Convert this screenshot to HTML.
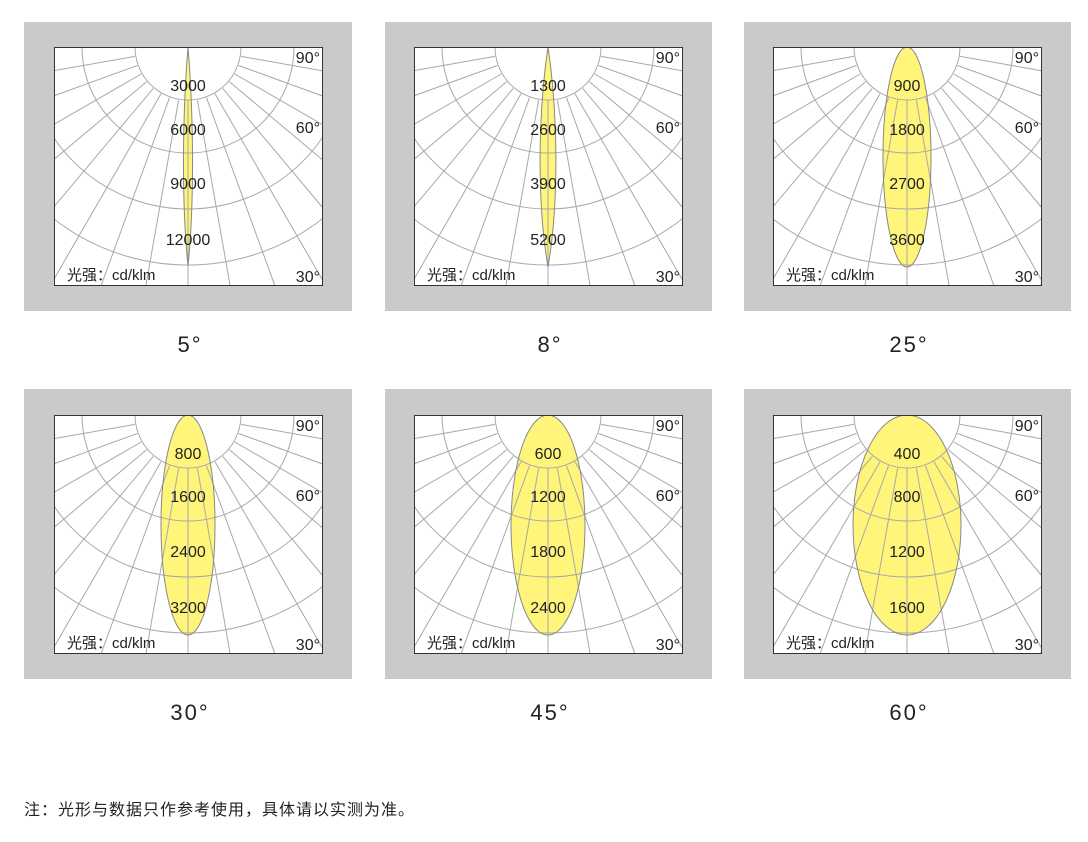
<!DOCTYPE html>
<html><head><meta charset="utf-8"><style>
html,body{margin:0;padding:0;background:#fff;}
svg{display:block;}
text{font-family:"Liberation Sans","Noto Sans CJK SC",sans-serif;fill:#222;}
</style></head><body>
<svg width="1088" height="842" viewBox="0 0 1088 842" xmlns="http://www.w3.org/2000/svg">
<defs>
<clipPath id="pc"><rect x="0" y="0" width="269" height="239"/></clipPath>
<g id="grid" fill="none" stroke="#a8a8a8" stroke-width="1">
<circle cx="134" cy="0" r="53"/>
<circle cx="134" cy="0" r="106"/>
<circle cx="134" cy="0" r="162"/>
<circle cx="134" cy="0" r="218"/>
<circle cx="134" cy="0" r="273"/>
<path d="M134 53V400
M143.4 53.2L203.5 393.9 M124.6 53.2L64.5 393.9
M152.5 50.7L270.8 375.9 M115.5 50.7L-2.8 375.9
M161 46.8L334 346.4 M107 46.8L-66 346.4
M168.7 41.4L391.1 306.4 M99.3 41.4L-123.1 306.4
M175.4 34.7L440.4 257.1 M92.6 34.7L-172.4 257.1
M180.8 27L480.4 200 M87.2 27L-212.4 200
M184.7 18.5L509.9 136.8 M83.3 18.5L-241.9 136.8
M187.2 9.4L527.9 69.5 M80.8 9.4L-259.9 69.5"/>
</g>
</defs>

<rect x="24" y="22" width="328" height="289" fill="#c9caca"/>
<rect x="385" y="22" width="327" height="289" fill="#c9caca"/>
<rect x="744" y="22" width="327" height="289" fill="#c9caca"/>
<rect x="24" y="389" width="328" height="290" fill="#c9caca"/>
<rect x="385" y="389" width="327" height="290" fill="#c9caca"/>
<rect x="744" y="389" width="327" height="290" fill="#c9caca"/>

<g transform="translate(54,47)">
<rect width="269" height="239" fill="#fff"/>
<g clip-path="url(#pc)">
<path d="M134 0C139 60 141 150 134 219C127 150 129 60 134 0Z" fill="#fff57a"/>
<use href="#grid"/>
<path d="M134 0C139 60 141 150 134 219C127 150 129 60 134 0Z" fill="none" stroke="#888"/>
</g>
<rect x="0.5" y="0.5" width="268" height="238" fill="none" stroke="#333"/>
<g font-size="16" text-anchor="middle"><text x="134" y="44">3000</text><text x="134" y="88">6000</text><text x="134" y="142">9000</text><text x="134" y="198">12000</text></g>
<g font-size="16" text-anchor="end"><text x="266" y="16">90°</text><text x="266" y="86">60°</text><text x="266" y="235">30°</text></g>
<text x="13" y="233" font-size="15">光强：cd/klm</text>
</g>

<g transform="translate(414,47)">
<rect width="269" height="239" fill="#fff"/>
<g clip-path="url(#pc)">
<path d="M134 0C143 60 146 150 134 220C122 150 125 60 134 0Z" fill="#fff57a"/>
<use href="#grid"/>
<path d="M134 0C143 60 146 150 134 220C122 150 125 60 134 0Z" fill="none" stroke="#888"/>
</g>
<rect x="0.5" y="0.5" width="268" height="238" fill="none" stroke="#333"/>
<g font-size="16" text-anchor="middle"><text x="134" y="44">1300</text><text x="134" y="88">2600</text><text x="134" y="142">3900</text><text x="134" y="198">5200</text></g>
<g font-size="16" text-anchor="end"><text x="266" y="16">90°</text><text x="266" y="86">60°</text><text x="266" y="235">30°</text></g>
<text x="13" y="233" font-size="15">光强：cd/klm</text>
</g>

<g transform="translate(773,47)">
<rect width="269" height="239" fill="#fff"/>
<g clip-path="url(#pc)">
<ellipse cx="134" cy="110" rx="24" ry="110" fill="#fff57a"/>
<use href="#grid"/>
<ellipse cx="134" cy="110" rx="24" ry="110" fill="none" stroke="#888"/>
</g>
<rect x="0.5" y="0.5" width="268" height="238" fill="none" stroke="#333"/>
<g font-size="16" text-anchor="middle"><text x="134" y="44">900</text><text x="134" y="88">1800</text><text x="134" y="142">2700</text><text x="134" y="198">3600</text></g>
<g font-size="16" text-anchor="end"><text x="266" y="16">90°</text><text x="266" y="86">60°</text><text x="266" y="235">30°</text></g>
<text x="13" y="233" font-size="15">光强：cd/klm</text>
</g>

<g transform="translate(54,415)">
<rect width="269" height="239" fill="#fff"/>
<g clip-path="url(#pc)">
<ellipse cx="134" cy="110" rx="27" ry="110" fill="#fff57a"/>
<use href="#grid"/>
<ellipse cx="134" cy="110" rx="27" ry="110" fill="none" stroke="#888"/>
</g>
<rect x="0.5" y="0.5" width="268" height="238" fill="none" stroke="#333"/>
<g font-size="16" text-anchor="middle"><text x="134" y="44">800</text><text x="134" y="87">1600</text><text x="134" y="142">2400</text><text x="134" y="198">3200</text></g>
<g font-size="16" text-anchor="end"><text x="266" y="16">90°</text><text x="266" y="86">60°</text><text x="266" y="235">30°</text></g>
<text x="13" y="233" font-size="15">光强：cd/klm</text>
</g>

<g transform="translate(414,415)">
<rect width="269" height="239" fill="#fff"/>
<g clip-path="url(#pc)">
<ellipse cx="134" cy="110" rx="37" ry="110" fill="#fff57a"/>
<use href="#grid"/>
<ellipse cx="134" cy="110" rx="37" ry="110" fill="none" stroke="#888"/>
</g>
<rect x="0.5" y="0.5" width="268" height="238" fill="none" stroke="#333"/>
<g font-size="16" text-anchor="middle"><text x="134" y="44">600</text><text x="134" y="87">1200</text><text x="134" y="142">1800</text><text x="134" y="198">2400</text></g>
<g font-size="16" text-anchor="end"><text x="266" y="16">90°</text><text x="266" y="86">60°</text><text x="266" y="235">30°</text></g>
<text x="13" y="233" font-size="15">光强：cd/klm</text>
</g>

<g transform="translate(773,415)">
<rect width="269" height="239" fill="#fff"/>
<g clip-path="url(#pc)">
<ellipse cx="134" cy="110" rx="54" ry="110" fill="#fff57a"/>
<use href="#grid"/>
<ellipse cx="134" cy="110" rx="54" ry="110" fill="none" stroke="#888"/>
</g>
<rect x="0.5" y="0.5" width="268" height="238" fill="none" stroke="#333"/>
<g font-size="16" text-anchor="middle"><text x="134" y="44">400</text><text x="134" y="87">800</text><text x="134" y="142">1200</text><text x="134" y="198">1600</text></g>
<g font-size="16" text-anchor="end"><text x="266" y="16">90°</text><text x="266" y="86">60°</text><text x="266" y="235">30°</text></g>
<text x="13" y="233" font-size="15">光强：cd/klm</text>
</g>

<g font-size="22" text-anchor="middle" letter-spacing="2">
<text x="190" y="352">5°</text><text x="550" y="352">8°</text><text x="909" y="352">25°</text>
<text x="190" y="720">30°</text><text x="550" y="720">45°</text><text x="909" y="720">60°</text>
</g>
<text x="24" y="815" font-size="16" letter-spacing="1">注：光形与数据只作参考使用，具体请以实测为准。</text>
</svg>
</body></html>
